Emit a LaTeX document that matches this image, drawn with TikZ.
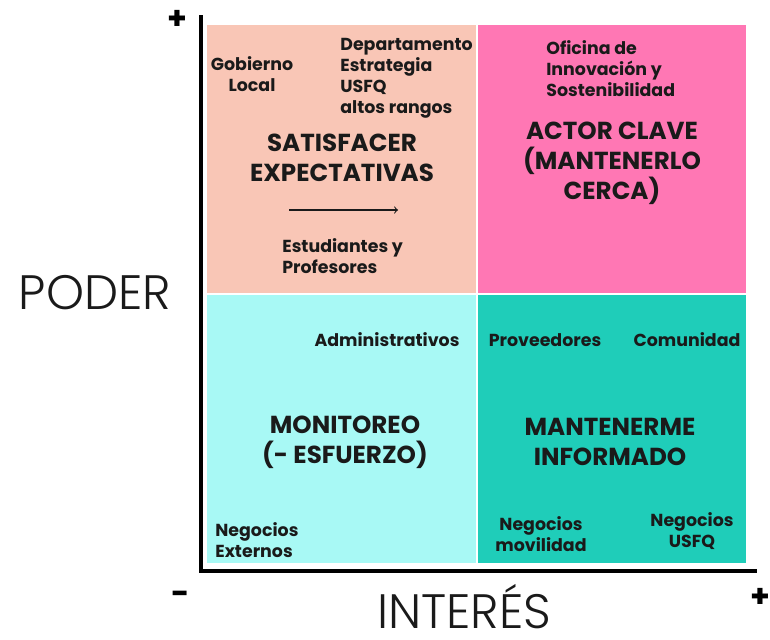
\documentclass[tikz,border=0pt]{standalone}
\usepackage{fontspec}
\setmainfont{Poppins}
\newfontfamily\ligera{Poppins Light}
\definecolor{salmon}{HTML}{F9C6B6}
\definecolor{rosa}{HTML}{FF77B4}
\definecolor{celeste}{HTML}{A8F9F5}
\definecolor{turquesa}{HTML}{1FCDB9}
\definecolor{tinta}{HTML}{1A1A1A}

\begin{document}
\begin{tikzpicture}[x=0.02cm,y=-0.02cm,
  actor/.style={inner sep=0pt, text=tinta, align=center,
    font=\bfseries\fontsize{9.9}{12}\selectfont},
  zona/.style={inner sep=0pt, text=tinta, align=center,
    font=\bfseries\fontsize{14}{17}\selectfont},
  eje/.style={inner sep=0pt, text=tinta, font=\ligera\fontsize{27.5}{30}\selectfont},
  signo/.style={inner sep=0pt, text=black, font=\bfseries\fontsize{18}{20}\selectfont}]
\useasboundingbox (0,0) rectangle (770,639);
% Quadrants
\fill[salmon] (207,25) rectangle (476,293);
\fill[rosa] (478,25) rectangle (746,293);
\fill[celeste] (207,295) rectangle (476,563);
\fill[turquesa] (478,295) rectangle (746,563);
% Axes
\coordinate (origen) at (201,571);
\coordinate (arriba) at (201,15);
\coordinate (derecha) at (757,571);
\draw[line width=2.3pt] (arriba) -- (origen |- derecha) -- (derecha);
\node[signo] (mas1) at (177,20) {+};
\node[signo] (menos) at (181,598) {-};
\node[signo] (mas2) at (760,598) {+};
\node[eje, anchor=base] (poder) at (95,309) {PODER};
\node[eje, anchor=base] (interes) at (464,628) {INTERÉS};
% Satisfacer expectativas
\node[actor] (gobierno) at (252,74) {Gobierno\\Local};
\node[actor, anchor=west, align=left] (depto) at (340,78) {Departamento\\Estrategia\\USFQ\\altos rangos};
\node[zona] (satisfacer) at (342,158) {SATISFACER\\EXPECTATIVAS};
\coordinate (f1) at (289,210);
\coordinate (f2) at (398,210);
\draw[->, line width=0.6pt, tinta] (f1) -- (f2);
\node[actor, anchor=west, align=left] (estudiantes) at (282,256) {Estudiantes y\\Profesores};
% Actor clave
\node[actor, anchor=west, align=left] (oficina) at (546,69) {Oficina de\\Innovación y\\Sostenibilidad};
\node[zona] (clave) at (612,163) {ACTOR CLAVE\\(MANTENERLO\\CERCA)};
% Monitoreo
\node[actor] (admin) at (387,340) {Administrativos};
\node[zona] (monitoreo) at (345,442) {MONITOREO\\(- ESFUERZO)};
\node[actor, anchor=west, align=left] (externos) at (215,540) {Negocios\\Externos};
% Mantenerme informado
\node[actor] (proveedores) at (545,340) {Proveedores};
\node[actor] (comunidad) at (687,340) {Comunidad};
\node[zona] (informado) at (610,442) {MANTENERME\\INFORMADO};
\node[actor] (movilidad) at (541,534) {Negocios\\movilidad};
\node[actor] (usfq) at (692,531) {Negocios\\USFQ};
\end{tikzpicture}
\end{document}
